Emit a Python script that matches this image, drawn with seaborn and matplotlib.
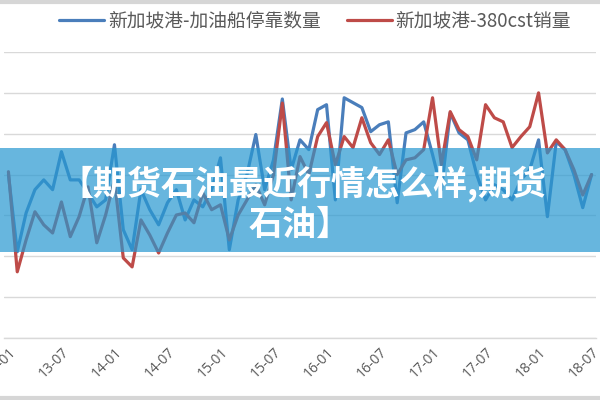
import matplotlib
matplotlib.use("Agg")
import matplotlib.pyplot as plt
from matplotlib.patches import Rectangle
from matplotlib.lines import Line2D
import numpy as np
import pandas as pd
import seaborn as sns

# monthly categories 13-01 .. 18-07
months = [f"{y % 100:02d}-{m:02d}" for y in range(2013, 2019) for m in range(1, 13)][:67]
tick_labels = months[::6]

series_names = ["新加坡港-加油船停靠数量", "新加坡港-380cst销量"]

# values (no y labels shown, so arbitrary units)
bunker_calls = [
    4.00, 2.11, 3.06, 3.63, 3.87, 3.63, 4.56, 3.87, 3.87, 3.55,
    3.21, 3.38, 4.73, 2.65, 2.16, 3.63, 3.14, 2.77, 3.31, 3.63,
    2.89, 3.38, 3.21, 3.63, 4.41, 2.16, 3.38, 4.00, 4.98, 3.63,
    4.36, 5.85, 4.12, 4.85, 4.61, 5.59, 5.71, 3.38, 5.88, 5.76,
    5.64, 5.05, 5.22, 5.29, 3.31, 5.02, 5.10, 5.29, 4.49, 3.63,
    5.51, 5.02, 4.85, 4.00, 3.38, 3.75, 3.63, 3.38, 3.87, 4.12,
    4.85, 2.97, 4.80, 4.61, 4.00, 3.19, 4.00,
]
sales_380cst = [
    4.07, 1.62, 2.40, 3.09, 2.77, 2.57, 3.33, 2.48, 2.97, 3.70,
    2.33, 3.01, 3.87, 1.96, 1.74, 2.89, 2.52, 2.08, 2.57, 3.01,
    3.06, 2.82, 3.55, 3.14, 3.26, 2.40, 3.01, 3.38, 3.75, 3.26,
    4.00, 5.75, 3.38, 4.44, 4.00, 4.93, 5.27, 4.24, 4.93, 4.66,
    5.39, 4.78, 4.49, 4.85, 4.00, 4.36, 4.41, 4.61, 5.88, 4.24,
    5.54, 5.10, 4.93, 4.36, 5.71, 5.39, 5.29, 4.66, 4.93, 5.17,
    6.00, 4.53, 4.85, 4.61, 4.12, 3.50, 4.00,
]

banner_lines = ["【期货石油最近行情怎么样,期货", "石油】"]


def main():
    sns.set_theme(style="white")
    plt.rcParams["font.family"] = ["Noto Sans CJK SC", "DejaVu Sans"]

    df = pd.DataFrame({
        "idx": np.arange(len(months)),
        "month": months,
        series_names[0]: bunker_calls,
        series_names[1]: sales_380cst,
    })

    fig = plt.figure(figsize=(6, 4), dpi=100)
    ax = fig.add_axes([4 / 600, 62 / 400, 592 / 600, 286 / 400])

    sns.lineplot(data=df, x="idx", y=series_names[0], color="#4a7ebb",
                 linewidth=2.3, label=series_names[0], legend=False, ax=ax)
    sns.lineplot(data=df, x="idx", y=series_names[1], color="#be4b48",
                 linewidth=2.3, label=series_names[1], legend=False, ax=ax)

    ax.set_xlim(-0.5, len(months) - 0.5)
    ax.set_ylim(0, 7)
    ax.set_xlabel("")
    ax.set_ylabel("")

    # horizontal gridlines only, no y labels (cut off in the original)
    ax.set_yticks(range(0, 8))
    ax.set_yticklabels([])
    ax.tick_params(axis="y", length=0)
    ax.yaxis.grid(True, color="#d9d9d9", linewidth=1)
    ax.xaxis.grid(False)

    ax.set_xticks(range(0, len(months), 6))
    ax.set_xticklabels(tick_labels, rotation=45, ha="right",
                       rotation_mode="anchor", fontsize=10, color="#595959",
                       family=["Open Sans", "DejaVu Sans"])
    ax.tick_params(axis="x", length=0, pad=5)
    ax.set_xticks(np.arange(-0.5, len(months), 6), minor=True)
    ax.tick_params(axis="x", which="minor", length=4, color="#d9d9d9", width=1)

    for side in ["left", "right", "top"]:
        ax.spines[side].set_visible(False)
    ax.spines["bottom"].set_color("#d9d9d9")
    ax.spines["bottom"].set_linewidth(1)

    handles, labels = ax.get_legend_handles_labels()
    leg = fig.legend(handles, labels, loc="center", bbox_to_anchor=(0.525, 0.948),
                     ncol=2, frameon=False, fontsize=13.5, handlelength=2.4,
                     handletextpad=0.2, columnspacing=1.4)
    for t in leg.get_texts():
        t.set_color("#595959")

    # translucent banner across the middle
    fig.add_artist(Rectangle((0, 148 / 400), 1, 104 / 400, transform=fig.transFigure,
                             facecolor=(39 / 255, 152 / 255, 209 / 255), alpha=0.7,
                             edgecolor="none", zorder=5))
    fig.text(0.505, 1 - 184 / 400, banner_lines[0], ha="center", va="center",
             fontsize=24.5, fontweight="heavy", color="white", zorder=6)
    fig.text(0.5, 1 - 224 / 400, banner_lines[1], ha="center", va="center",
             fontsize=24.5, fontweight="heavy", color="white", zorder=6)

    # faint frame lines at top and bottom
    fig.add_artist(Line2D([0, 1], [0.996, 0.996], transform=fig.transFigure,
                          color="#d6d6d6", linewidth=3))
    fig.add_artist(Line2D([0, 1], [0.004, 0.004], transform=fig.transFigure,
                          color="#d6d6d6", linewidth=3))

    fig.savefig("out.png", dpi=100)


if __name__ == "__main__":
    main()
